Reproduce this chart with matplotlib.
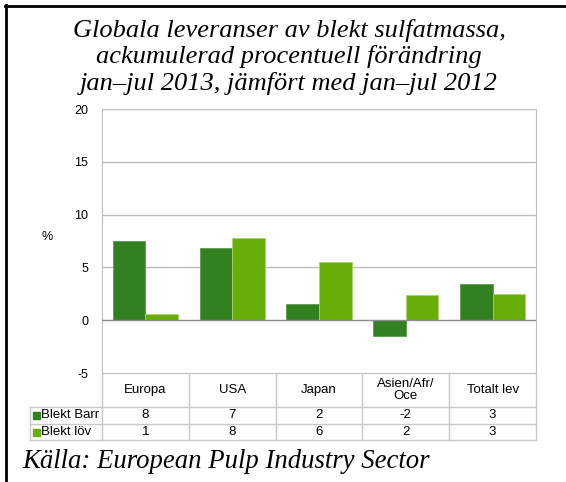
import matplotlib.pyplot as plt
from matplotlib.lines import Line2D
from matplotlib.patches import Rectangle
import matplotlib.transforms as mtransforms

# data
kategorier = ['Europa', 'USA', 'Japan', 'Asien/Afr/\nOce', 'Totalt lev']
serier = ['Blekt Barr', 'Blekt löv']
blekt_barr = [7.5, 6.8, 1.5, -1.45, 3.4]
blekt_lov = [0.6, 7.8, 5.5, 2.4, 2.5]
tabell_barr = ['8', '7', '2', '-2', '3']
tabell_lov = ['1', '8', '6', '2', '3']
y_ticks = [-5, 0, 5, 10, 15, 20]

titel = ('Globala leveranser av blekt sulfatmassa,\n'
         'ackumulerad procentuell förändring\n'
         'jan\u2013jul 2013, jämfört med jan\u2013jul 2012')
kalla = 'Källa: European Pulp Industry Sector'

mork = '#32801F'
ljus = '#67AF08'
grid_farg = '#BDBDBD'

W, H = 566, 482
fig = plt.figure(figsize=(W / 100, H / 100), dpi=100)
fig.patch.set_facecolor('white')

# axes in pixel terms
x0, x1 = 102, 536
ytop, ybot = 109, 373
ax = fig.add_axes([x0 / W, 1 - ybot / H, (x1 - x0) / W, (ybot - ytop) / H])

x = list(range(len(kategorier)))
bw = 0.375
ax.bar([i - bw / 2 for i in x], blekt_barr, bw, color=mork,
       edgecolor='#5C9A4E', linewidth=0.6, zorder=3)
ax.bar([i + bw / 2 for i in x], blekt_lov, bw, color=ljus,
       edgecolor='#A8D46A', linewidth=0.6, zorder=3)

ax.set_xlim(-0.5, len(kategorier) - 0.5)
ax.set_ylim(-5, 20)
ax.set_yticks(y_ticks)
ax.set_yticklabels([str(t) for t in y_ticks], fontsize=9,
                   family='Liberation Sans')
ax.tick_params(axis='y', length=0, pad=10)
ax.set_xticks([])
for t in y_ticks:
    if t not in (0, -5):
        ax.axhline(t, color=grid_farg, lw=1, zorder=1)
ax.axhline(0, color='#8C8C8C', lw=1, zorder=4)
ax.spines['top'].set_visible(False)
ax.spines['left'].set_color(grid_farg)
ax.spines['right'].set_color(grid_farg)
ax.spines['bottom'].set_color(grid_farg)

fig.text(42 / W, 1 - 237 / H, '%', fontsize=9, family='Liberation Sans',
         ha='left', va='center')

# data table below the axes
tr = mtransforms.blended_transform_factory(ax.transData, fig.transFigure)
def fy(py):
    return 1 - py / H

rad = [373, 407, 424, 440]
lab_x = -0.5 - (102 - 30) / ((x1 - x0) / len(kategorier))
lkw = dict(color='#C8C8C8', lw=1, transform=tr, clip_on=False)

n = len(kategorier)
for r in rad[1:]:
    fig.add_artist(Line2D([lab_x, n - 0.5], [fy(r), fy(r)], **lkw))
for k in range(n + 1):
    fig.add_artist(Line2D([k - 0.5, k - 0.5], [fy(rad[0]), fy(rad[-1])], **lkw))
fig.add_artist(Line2D([lab_x, lab_x], [fy(rad[1]), fy(rad[-1])], **lkw))

fs = 9.5
for i, kat in enumerate(kategorier):
    fig.text(i, fy((rad[0] + rad[1]) / 2), kat, transform=tr, ha='center',
             va='center', fontsize=fs, family='Liberation Sans', linespacing=1.1)
    fig.text(i, fy((rad[1] + rad[2]) / 2), tabell_barr[i], transform=tr,
             ha='center', va='center', fontsize=fs, family='Liberation Sans')
    fig.text(i, fy((rad[2] + rad[3]) / 2), tabell_lov[i], transform=tr,
             ha='center', va='center', fontsize=fs, family='Liberation Sans')

for j, (namn, farg) in enumerate(zip(serier, [mork, ljus])):
    yc = (rad[1 + j] + rad[2 + j]) / 2
    fig.add_artist(Rectangle((33 / W, fy(yc + 3.5)), 7 / W, 7 / H,
                             color=farg, transform=fig.transFigure))
    fig.text(41 / W, fy(yc), namn, ha='left', va='center', fontsize=fs,
             family='Liberation Sans')

# title and source
fig.text(289 / W, fy(57), titel, ha='center', va='center', fontsize=19,
         family='Liberation Serif', style='italic', linespacing=1.17)
fig.text(22 / W, fy(462), kalla, ha='left', va='center', fontsize=19.3,
         family='Liberation Serif', style='italic')

# frame: left and top black lines
fig.add_artist(Line2D([6 / W, 6 / W], [0, fy(5)], color='black', lw=2,
                      transform=fig.transFigure))
fig.add_artist(Line2D([5 / W, 1], [fy(6), fy(6)], color='black', lw=2,
                      transform=fig.transFigure))

fig.savefig('out.png', dpi=100)
